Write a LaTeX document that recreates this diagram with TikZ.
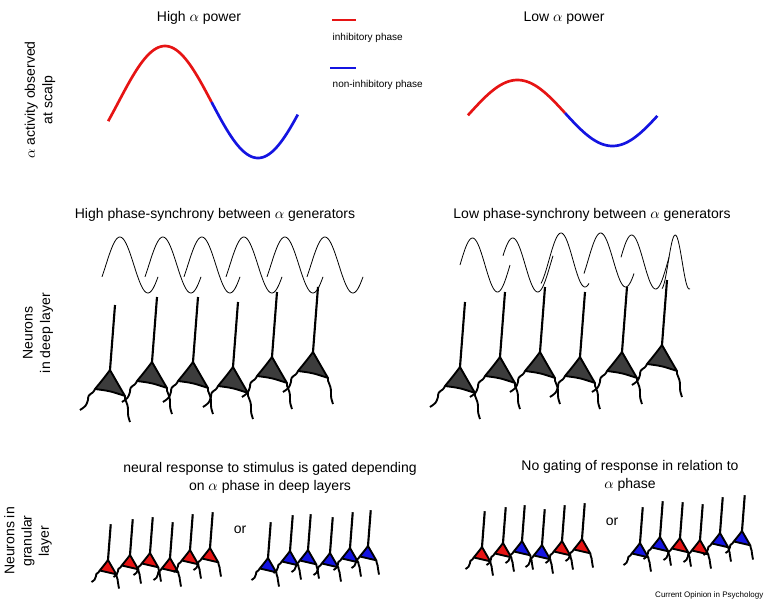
\documentclass[tikz,border=0pt]{standalone}
\usepackage{fontspec}
\setmainfont{Liberation Sans}
\definecolor{rd}{RGB}{230,20,20}
\definecolor{bl}{RGB}{20,20,225}
\definecolor{soma}{RGB}{60,60,60}
\newcommand\neu[4]{% x, apex y, scale, fill
\begin{scope}[shift={(#1,#2)},scale=#3]
\draw[line width=1.6pt] (0,0) -- (5,-65);
\draw[line width=1.4pt,fill=#4,line join=round] (0,0) .. controls (-6,8) .. (-15,19) .. controls (0,21) .. (15,26) .. controls (8,14) .. (0,0) -- cycle;
\draw[line width=1.4pt] (-15,19) .. controls (-18,26) and (-22,22) .. (-22,30) .. controls (-24,36) .. (-30,40);
\draw[line width=1.4pt] (15,26) .. controls (14,30) and (18,32) .. (18,40) .. controls (18,46) .. (20,52);
\end{scope}}
\newcommand\sn[5]{% x0, yc, width, amp, phase
\draw[line width=0.6pt] plot[domain=0:360,samples=50,smooth] ({#1+\x/360*#3},{#2-#4*sin(\x+#5)});}
\begin{document}
\begin{tikzpicture}[x=0.75pt,y=-0.75pt,every node/.style={font=\fontsize{10.5pt}{13pt}\selectfont,align=center}]
\useasboundingbox (0,0) rectangle (772,608);
% top sines
\draw[rd,line width=2pt] plot[domain=-20:180,samples=60,smooth] ({118.5+\x/360*186},{102-56*sin(\x)});
\draw[bl,line width=2pt] plot[domain=180:347,samples=60,smooth] ({118.5+\x/360*186},{102-56*sin(\x)});
\draw[rd,line width=2pt] plot[domain=-4:180,samples=60,smooth] ({470+\x/360*190},{113-33*sin(\x)});
\draw[bl,line width=2pt] plot[domain=180:355,samples=60,smooth] ({470+\x/360*190},{113-33*sin(\x)});
\node (t1) at (199,18) {High $\alpha$ power};
\node (t2) at (564,18) {Low $\alpha$ power};
\draw[rd,line width=2pt] (332,20) -- (356,20);
\draw[bl,line width=2pt] (330,68) -- (356,68);
\node[anchor=west,font=\fontsize{7.5pt}{9pt}\selectfont] (l1) at (328,38) {inhibitory phase};
\node[anchor=west,font=\fontsize{7.5pt}{9pt}\selectfont] (l2) at (328,85) {non-inhibitory phase};
\node[rotate=90] (r1) at (40,100) {$\alpha$ activity observed\\at scalp};
% middle
\node (m1) at (215,215) {High phase-synchrony between $\alpha$ generators};
\node (m2) at (592,215) {Low phase-synchrony between $\alpha$ generators};
\node[rotate=90] (r2) at (38,333) {Neurons\\in deep layer};
\foreach \i in {102,145,184,226,267,307} {\sn{\i}{265}{56}{28}{-25}}
\sn{460}{265}{50}{27}{0}
\sn{503}{265}{50}{27}{20}
\sn{541}{260}{48}{27}{-60}
\sn{584}{260}{50}{27}{-30}
\sn{621}{262}{48}{27}{10}
\sn{662}{262}{28}{27}{-80}
\foreach \i/\j in {110/370,152/362,193/362,233/367,272/357,313/352} {\neu{\i}{\j}{1}{soma}}
\foreach \i/\j in {460/367,500/357,540/352,580/357,622/352,662/345} {\neu{\i}{\j}{1}{soma}}
% bottom
\node[rotate=90] (r3) at (28,541) {Neurons in\\granular\\layer};
\node (b1) at (270,478) {neural response to stimulus is gated depending\\on $\alpha$ phase in deep layers};
\node (b2) at (630,476) {No gating of response in relation to\\$\alpha$ phase};
\node (or1) at (240,530) {or};
\node (or2) at (612,522) {or};
\foreach \i/\j in {108/560,130/555,150/553,170/558,190/550,210/548} {\neu{\i}{\j}{0.55}{rd}}
\foreach \i/\j in {268/558,290/551,308/550,330/553,350/548,368/546} {\neu{\i}{\j}{0.55}{bl}}
\foreach \i/\j/\c in {482/547/rd,503/543/rd,522/541/bl,542/545/bl,562/541/rd,582/539/rd} {\neu{\i}{\j}{0.55}{\c}}
\foreach \i/\j/\c in {640/543/bl,660/537/bl,680/538/rd,700/540/rd,720/533/bl,742/531/bl} {\neu{\i}{\j}{0.55}{\c}}
\node[anchor=east,font=\fontsize{6pt}{7pt}\selectfont] (c) at (768,595) {Current Opinion in Psychology};
\end{tikzpicture}
\end{document}
